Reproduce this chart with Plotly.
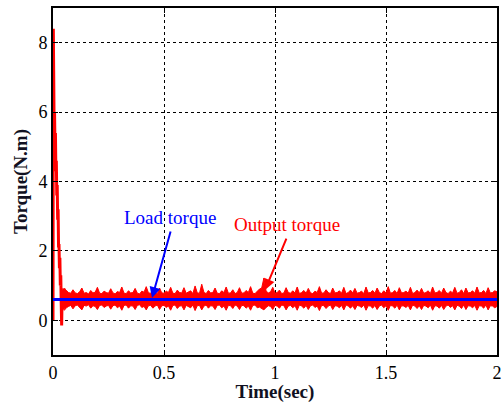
import numpy as np
import plotly.graph_objects as go

# Start-up transient of the output torque (time in s, torque in N.m)
t_start = [0.0, 0.0015, 0.003, 0.005, 0.007, 0.009, 0.011, 0.013, 0.015, 0.017,
           0.019, 0.021, 0.023, 0.025, 0.027, 0.029, 0.031, 0.033, 0.035, 0.037,
           0.039, 0.041, 0.043, 0.045, 0.047, 0.05]
tq_start = [0.0, 8.4, 7.2, 5.6, 6.0, 5.0, 5.4, 4.3, 4.6, 3.6,
            3.9, 2.9, 3.2, 2.1, 2.2, 1.5, 1.8, 1.0, 1.3, 0.5,
            -0.15, 0.7, 0.3, 0.85, 0.35, 0.92]

# Steady-state ripple band: upper and lower envelopes sampled every 10 ms
t_band = np.round(np.arange(0.05, 2.0001, 0.01), 3)
tq_upper = [
    0.92, 0.86, 0.80, 0.78, 0.88, 0.79, 0.77, 0.82, 0.93, 0.78, 0.80, 0.76, 0.86, 0.79, 0.81, 0.95, 0.78, 0.77, 0.84, 0.80,
    0.78, 0.91, 0.79, 0.76, 0.83, 0.80, 0.96, 0.78, 0.77, 0.85, 0.79, 0.80, 0.92, 0.78, 0.76, 0.84, 0.81, 0.97, 0.79, 0.78,
    0.86, 0.80, 0.77, 0.93, 0.79, 0.78, 0.84, 0.80, 0.95, 0.78, 0.77, 0.87, 0.80, 0.79, 0.94, 0.78, 0.81, 0.85, 0.77, 0.99,
    0.79, 0.78, 1.04, 0.80, 0.77, 0.86, 0.79, 0.80, 0.93, 0.78, 0.77, 0.85, 0.80, 0.96, 0.78, 0.79, 0.88, 0.77, 0.80, 0.94,
    0.78, 0.79, 0.86, 0.80, 0.97, 0.78, 0.77, 0.85, 0.90, 0.93, 1.22, 0.84, 0.79, 0.82, 0.95, 0.78, 0.80, 0.87, 0.77, 0.79,
    0.94, 0.80, 0.78, 0.85, 0.79, 0.96, 0.77, 0.80, 0.86, 0.78, 0.92, 0.79, 0.77, 0.84, 0.80, 0.97, 0.78, 0.79, 0.88, 0.80,
    0.77, 0.93, 0.79, 0.80, 0.85, 0.78, 0.95, 0.77, 0.80, 0.87, 0.79, 0.92, 0.78, 0.80, 0.84, 0.77, 0.96, 0.79, 0.80, 0.86,
    0.78, 0.93, 0.80, 0.77, 0.85, 0.79, 0.97, 0.78, 0.80, 0.86, 0.77, 0.94, 0.79, 0.80, 0.84, 0.78, 0.95, 0.77, 0.80, 0.87,
    0.79, 0.92, 0.78, 0.80, 0.85, 0.77, 0.96, 0.79, 0.80, 0.86, 0.78, 0.93, 0.80, 0.77, 0.84, 0.79, 0.95, 0.78, 0.80, 0.88,
    0.77, 0.93, 0.79, 0.80, 0.85, 0.78, 0.96, 0.79, 0.80, 0.86, 0.77, 0.94, 0.79, 0.80, 0.85, 0.82,
]
tq_lower = [
    0.28, 0.36, 0.40, 0.43, 0.33, 0.42, 0.44, 0.38, 0.30, 0.43, 0.41, 0.45, 0.35, 0.42, 0.40, 0.31, 0.43, 0.44, 0.37, 0.41,
    0.43, 0.32, 0.42, 0.44, 0.36, 0.41, 0.29, 0.43, 0.44, 0.35, 0.42, 0.41, 0.31, 0.43, 0.45, 0.37, 0.40, 0.30, 0.42, 0.43,
    0.35, 0.41, 0.44, 0.31, 0.42, 0.43, 0.37, 0.41, 0.29, 0.43, 0.44, 0.34, 0.41, 0.42, 0.30, 0.43, 0.40, 0.36, 0.44, 0.28,
    0.42, 0.43, 0.30, 0.41, 0.44, 0.35, 0.42, 0.41, 0.31, 0.43, 0.44, 0.36, 0.41, 0.29, 0.43, 0.42, 0.34, 0.44, 0.41, 0.31,
    0.43, 0.42, 0.35, 0.41, 0.29, 0.43, 0.44, 0.36, 0.38, 0.33, 0.30, 0.37, 0.42, 0.40, 0.31, 0.43, 0.41, 0.35, 0.44, 0.42,
    0.30, 0.41, 0.43, 0.36, 0.42, 0.29, 0.44, 0.41, 0.35, 0.43, 0.31, 0.42, 0.44, 0.37, 0.41, 0.28, 0.43, 0.42, 0.34, 0.41,
    0.44, 0.31, 0.42, 0.41, 0.36, 0.43, 0.30, 0.44, 0.41, 0.35, 0.42, 0.31, 0.43, 0.41, 0.37, 0.44, 0.29, 0.42, 0.41, 0.35,
    0.43, 0.31, 0.41, 0.44, 0.36, 0.42, 0.29, 0.43, 0.41, 0.35, 0.44, 0.30, 0.42, 0.41, 0.37, 0.43, 0.30, 0.44, 0.41, 0.34,
    0.42, 0.31, 0.43, 0.41, 0.36, 0.44, 0.29, 0.42, 0.41, 0.35, 0.43, 0.31, 0.41, 0.44, 0.37, 0.42, 0.30, 0.43, 0.41, 0.34,
    0.44, 0.31, 0.42, 0.41, 0.36, 0.43, 0.29, 0.42, 0.41, 0.35, 0.44, 0.30, 0.42, 0.41, 0.36, 0.40,
]

# Constant load torque
t_load = [0.0, 2.0]
tq_load = [0.6, 0.6]

x_ticks = [0, 0.5, 1, 1.5, 2]
x_tick_text = ["0", "0.5", "1", "1.5", "2"]
y_ticks = [0, 2, 4, 6, 8]

RED = "#ff0000"
BLUE = "#0000ff"
SERIF = "Liberation Serif, Times New Roman, serif"

fig = go.Figure()

# Output torque ripple band
fig.add_trace(go.Scatter(x=t_band, y=tq_upper, mode="lines",
                         line=dict(color=RED, width=1), hoverinfo="skip",
                         showlegend=False))
fig.add_trace(go.Scatter(x=t_band, y=tq_lower, mode="lines",
                         line=dict(color=RED, width=1), fill="tonexty",
                         fillcolor=RED, hoverinfo="skip", showlegend=False))
# Output torque start-up
fig.add_trace(go.Scatter(x=t_start, y=tq_start, mode="lines",
                         line=dict(color=RED, width=3), showlegend=False))
# Load torque
fig.add_trace(go.Scatter(x=t_load, y=tq_load, mode="lines",
                         line=dict(color=BLUE, width=3), showlegend=False))

# Labels with arrows
fig.add_annotation(x=0.527, y=2.96, text="Load torque", showarrow=False,
                   font=dict(family=SERIF, size=19, color=BLUE))
fig.add_annotation(x=0.446, y=0.64, ax=19, ay=-68, text="", showarrow=True,
                   arrowhead=2, arrowsize=1.1, arrowwidth=2, arrowcolor=BLUE)
fig.add_annotation(x=1.054, y=2.75, text="Output torque", showarrow=False,
                   font=dict(family=SERIF, size=19, color=RED))
fig.add_annotation(x=0.955, y=0.87, ax=22, ay=-53, text="", showarrow=True,
                   arrowhead=2, arrowsize=1.1, arrowwidth=2, arrowcolor=RED)

axis_common = dict(
    showline=True, linecolor="black", linewidth=2, mirror="ticks",
    ticks="inside", ticklen=5, tickcolor="black", tickwidth=1,
    showgrid=True, gridcolor="black", gridwidth=1, griddash="3px,3px",
    zeroline=False, automargin=False,
    tickfont=dict(family=SERIF, size=18, color="black"),
)

fig.update_xaxes(range=[0, 2], tickvals=x_ticks, ticktext=x_tick_text,
                 title=dict(text="<b>Time(sec)</b>", standoff=8,
                            font=dict(family=SERIF, size=19, color="#111122")),
                 **axis_common)
fig.update_yaxes(range=[-1, 9], tickvals=y_ticks,
                 title=dict(text="<b>Torque(N.m)</b>", standoff=6,
                            font=dict(family=SERIF, size=19, color="#111122")),
                 **axis_common)

fig.update_layout(
    width=502, height=403,
    margin=dict(l=53, r=5, t=8, b=48),
    paper_bgcolor="white", plot_bgcolor="white",
    showlegend=False,
)

fig.write_html("out.html")
